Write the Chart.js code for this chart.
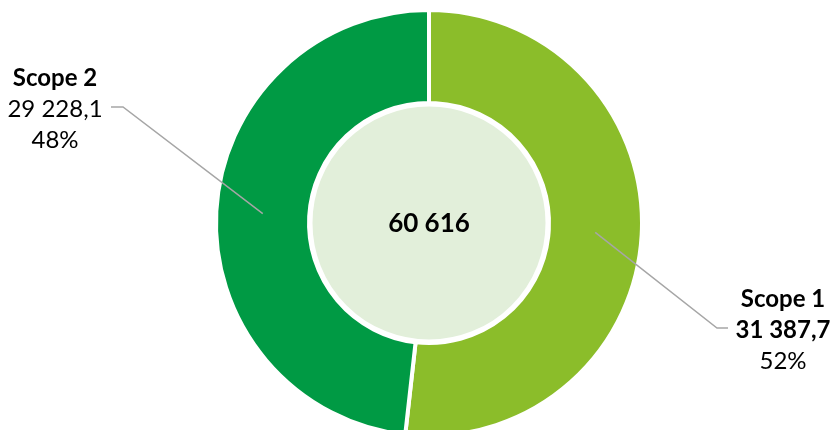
<!DOCTYPE html>
<html>
<head>
<meta charset="utf-8">
<script src="https://cdn.jsdelivr.net/npm/chart.js@4.4.0/dist/chart.umd.min.js"></script>
<style>
  html, body { margin: 0; padding: 0; overflow: hidden; background: #fff; }
  #wrap { width: 832px; height: 446px; }
</style>
</head>
<body>
<div id="wrap"><canvas id="myChart"></canvas></div>
<script>
var labels = ['Scope 1', 'Scope 2'];
var values = [31387.7, 29228.1];
var colors = ['#8bbd2a', '#009a44'];

// number like "31 387,7"
function fmt(v, dec) {
    var s = v.toFixed(dec).split('.');
    var int = s[0].replace(/\B(?=(\d{3})+(?!\d))/g, ' ');
    return s.length > 1 ? int + ',' + s[1] : int;
}

var calloutPlugin = {
    id: 'callouts',
    afterDatasetsDraw: function(chart, args, opts) {
        var ctx = chart.ctx;
        var meta = chart.getDatasetMeta(0);
        var data = chart.data.datasets[0].data;
        var total = data.reduce(function(a, b) { return a + b; }, 0);
        var first = meta.data[0];

        // centre disc
        ctx.save();
        ctx.beginPath();
        ctx.arc(first.x, first.y, opts.discRadius, 0, Math.PI * 2);
        ctx.fillStyle = '#e2efda';
        ctx.fill();
        ctx.lineWidth = 3;
        ctx.strokeStyle = '#ffffff';
        ctx.stroke();

        ctx.fillStyle = '#000';
        ctx.textAlign = 'center';
        ctx.textBaseline = 'middle';
        ctx.font = 'bold 26px Lato';
        ctx.fillText(fmt(total, 0), first.x, first.y + 1);

        meta.data.forEach(function(arc, i) {
            var pos = opts.positions[i];
            var mid = (arc.startAngle + arc.endAngle) / 2;
            var r = (arc.innerRadius + arc.outerRadius) / 2;
            var sx = arc.x + Math.cos(mid) * r;
            var sy = arc.y + Math.sin(mid) * r;

            ctx.beginPath();
            ctx.moveTo(sx, sy);
            ctx.lineTo(pos.elbowX, pos.y - 2);
            ctx.lineTo(pos.endX, pos.y - 2);
            ctx.strokeStyle = '#a6a6a6';
            ctx.lineWidth = 1.5;
            ctx.stroke();

            var pct = Math.round(data[i] / total * 100) + '%';
            ctx.fillStyle = '#000';
            ctx.font = 'bold 24px Lato';
            ctx.fillText(chart.data.labels[i], pos.x, pos.y - 31);
            ctx.font = (pos.boldValue ? 'bold ' : '') + '24px Lato';
            ctx.fillText(fmt(data[i], 1), pos.x, pos.y);
            ctx.font = '24px Lato';
            ctx.fillText(pct, pos.x, pos.y + 31);
        });
        ctx.restore();
    }
};

var ctx = document.getElementById('myChart').getContext('2d');
var myChart = new Chart(ctx, {
    type: 'doughnut',
    data: {
        labels: labels,
        datasets: [{
            data: values,
            backgroundColor: colors,
            borderColor: '#ffffff',
            borderWidth: 4
        }]
    },
    options: {
        responsive: true,
        maintainAspectRatio: false,
        animation: false,
        cutout: 120,
        layout: { padding: { top: 8, bottom: 8, left: 26, right: 0 } },
        plugins: {
            legend: { display: false },
            tooltip: { enabled: false },
            callouts: {
                discRadius: 118,
                positions: [
                    { x: 783, y: 330, elbowX: 717, endX: 728, boldValue: true },
                    { x: 55, y: 109, elbowX: 123, endX: 111, boldValue: false }
                ]
            }
        }
    },
    plugins: [calloutPlugin]
});
</script>
</body>
</html>
